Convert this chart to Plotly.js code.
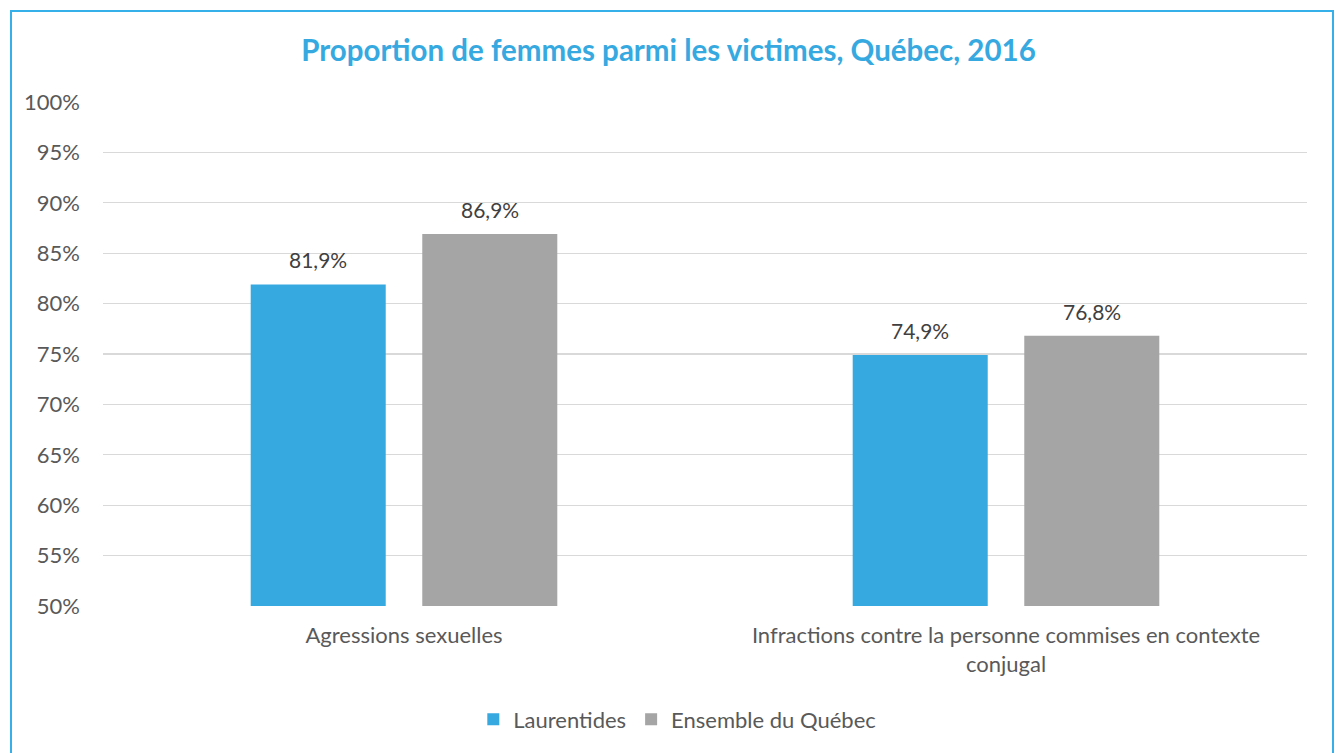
<!DOCTYPE html>
<html>
<head>
<meta charset="utf-8">
<script src="https://cdn.plot.ly/plotly-3.0.1.min.js"></script>
<style>
  html, body { margin: 0; padding: 0; background: #ffffff; overflow: hidden; }
  #frame { position: absolute; left: 10px; top: 10px; width: 1324px; height: 800px; border: 2px solid #35B0E8; box-sizing: border-box; }
  #chart { position: absolute; left: 0; top: 0; width: 1337px; height: 753px; }
</style>
</head>
<body>
<div id="frame"></div>
<div id="chart"></div>
<script>
const categories = ["Agressions sexuelles", "Infractions contre la personne commises en contexte<br>conjugal"];
const seriesNames = ["Laurentides", "Ensemble du Québec"];
const laurentides = [81.9, 74.9];
const quebec = [86.9, 76.8];
const seriesColors = ["#36A9E1", "#A5A5A5"];
const yTicks = [50, 55, 60, 65, 70, 75, 80, 85, 90, 95, 100];
const yTickLabels = ["50%", "55%", "60%", "65%", "70%", "75%", "80%", "85%", "90%", "95%", "100%"];

const FONT = "Lato, 'Open Sans', sans-serif";
const TXT = "#595959";
const bargap = 0.43, bargroupgap = 0.213;
const series = [laurentides, quebec];

const traces = series.map((vals, i) => ({
  type: "bar",
  name: seriesNames[i],
  x: categories,
  y: vals,
  marker: { color: seriesColors[i] },
  hoverinfo: "skip"
}));

const plotW = 1337 - 103 - 30;
const slot = plotW / categories.length * (1 - bargap) / series.length;
const annotations = [];
series.forEach((vals, i) => {
  vals.forEach((v, j) => {
    annotations.push({
      x: categories[j], y: v, xref: "x", yref: "y",
      text: v.toFixed(1).replace(".", ",") + "%",
      showarrow: false, yanchor: "bottom", yshift: 10,
      xshift: (i - (series.length - 1) / 2) * slot,
      font: { family: FONT, size: 21, color: "#404040" }
    });
  });
});

const layout = {
  width: 1337, height: 753,
  paper_bgcolor: "rgba(0,0,0,0)", plot_bgcolor: "rgba(0,0,0,0)",
  margin: { l: 103, r: 30, t: 102, b: 147 },
  barmode: "group", bargap: bargap, bargroupgap: bargroupgap,
  title: {
    text: "<b>Proportion de femmes parmi les victimes, Québec, 2016</b>",
    font: { family: FONT, size: 29.5, color: "#36A9E1" },
    x: 0.5, xref: "container", xanchor: "center",
    y: 1 - 51 / 753, yref: "container", yanchor: "middle"
  },
  font: { family: FONT, color: TXT, size: 22 },
  xaxis: {
    type: "category", showgrid: false, zeroline: false, showline: false,
    ticks: "", ticklabelstandoff: 14,
    tickfont: { family: FONT, size: 22, color: TXT }
  },
  yaxis: {
    range: [50, 100], tickmode: "array", tickvals: yTicks, ticktext: yTickLabels,
    showgrid: true, gridcolor: "#D9D9D9", gridwidth: 1.3,
    zeroline: false, showline: false, ticks: "", ticklabelstandoff: 22,
    tickfont: { family: FONT, size: 22, color: TXT }
  },
  legend: {
    orientation: "h", x: 0.477, xanchor: "center", y: -0.225, yanchor: "middle",
    font: { family: FONT, size: 22, color: TXT }, itemwidth: 30, traceorder: "normal"
  },
  annotations: annotations,
  showlegend: true
};

Plotly.newPlot("chart", traces, layout, { displayModeBar: false, staticPlot: true });
</script>
</body>
</html>
